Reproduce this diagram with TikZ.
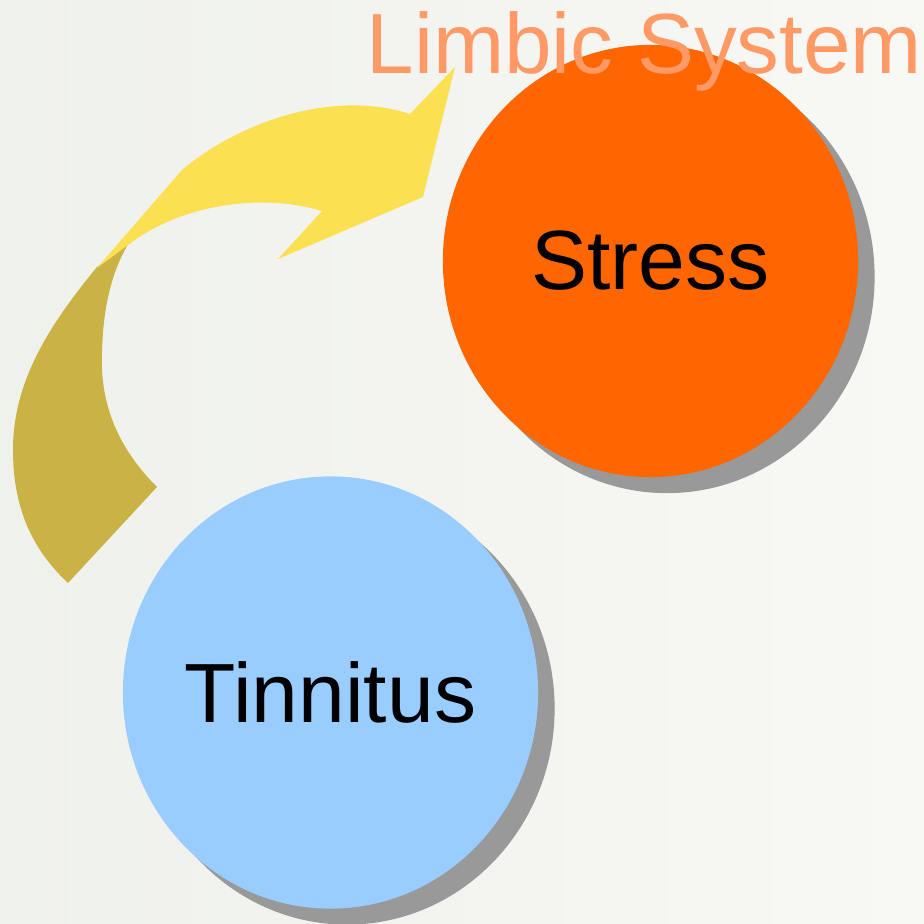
\documentclass[tikz,border=0pt]{standalone}
\usepackage{fontspec}
\setmainfont{Liberation Sans}
\usetikzlibrary{shapes.geometric,shadows}

\definecolor{bgleft}{HTML}{EFF1ED}
\definecolor{bgright}{HTML}{F8F8F4}
\definecolor{arrowfront}{HTML}{FBE052}
\definecolor{arrowback}{HTML}{CAB344}
\definecolor{stressfill}{HTML}{FF6600}
\definecolor{tinnitusfill}{HTML}{99CCFF}
\definecolor{shadowgray}{HTML}{999999}
\definecolor{limbictext}{HTML}{FF9966}

\tikzset{
  bubble/.style={ellipse, inner sep=0pt,
    minimum width=4.15cm, minimum height=4.32cm,
    font=\fontsize{23.9pt}{28pt}\selectfont, text=black,
    drop shadow={shadow xshift=0.165cm, shadow yshift=-0.16cm,
                 opacity=1, fill=shadowgray}},
  heading/.style={inner sep=0pt, anchor=base west, text=limbictext,
    font=\fontsize{24.3pt}{29pt}\selectfont}
}

\begin{document}
\begin{tikzpicture}[x=0.01cm, y=-0.01cm]
  % canvas
  \useasboundingbox (0,0) rectangle (924,924);
  \shade[left color=bgleft, right color=bgright] (0,0) rectangle (924,924);

  % back face of the curved arrow
  \fill[arrowback] (97,267)
    .. controls (45,330) and (13,385) .. (13,450)
    .. controls (13,512) and (35,552) .. (68,583)
    -- (157,487)
    .. controls (115,445) and (100,400) .. (102,353)
    .. controls (103,300) and (115,265) .. (130,241)
    -- cycle;

  % front face with the arrow head
  \fill[arrowfront] (97,268) -- (182,170)
    .. controls (235,125) and (330,88) .. (410,114)
    -- (455,67) -- (423,197) -- (278,259) -- (322,211)
    .. controls (270,195) and (190,200) .. (132,242)
    -- cycle;

  % the two bubbles
  \node[bubble, fill=stressfill] (stress) at (650.5,261) {Stress};
  \node[bubble, fill=tinnitusfill] (tinnitus) at (330.5,692.5) {Tinnitus};

  % heading over the stress bubble
  \node[heading] (limbic) at (366,73) {Limbic System};
\end{tikzpicture}
\end{document}
